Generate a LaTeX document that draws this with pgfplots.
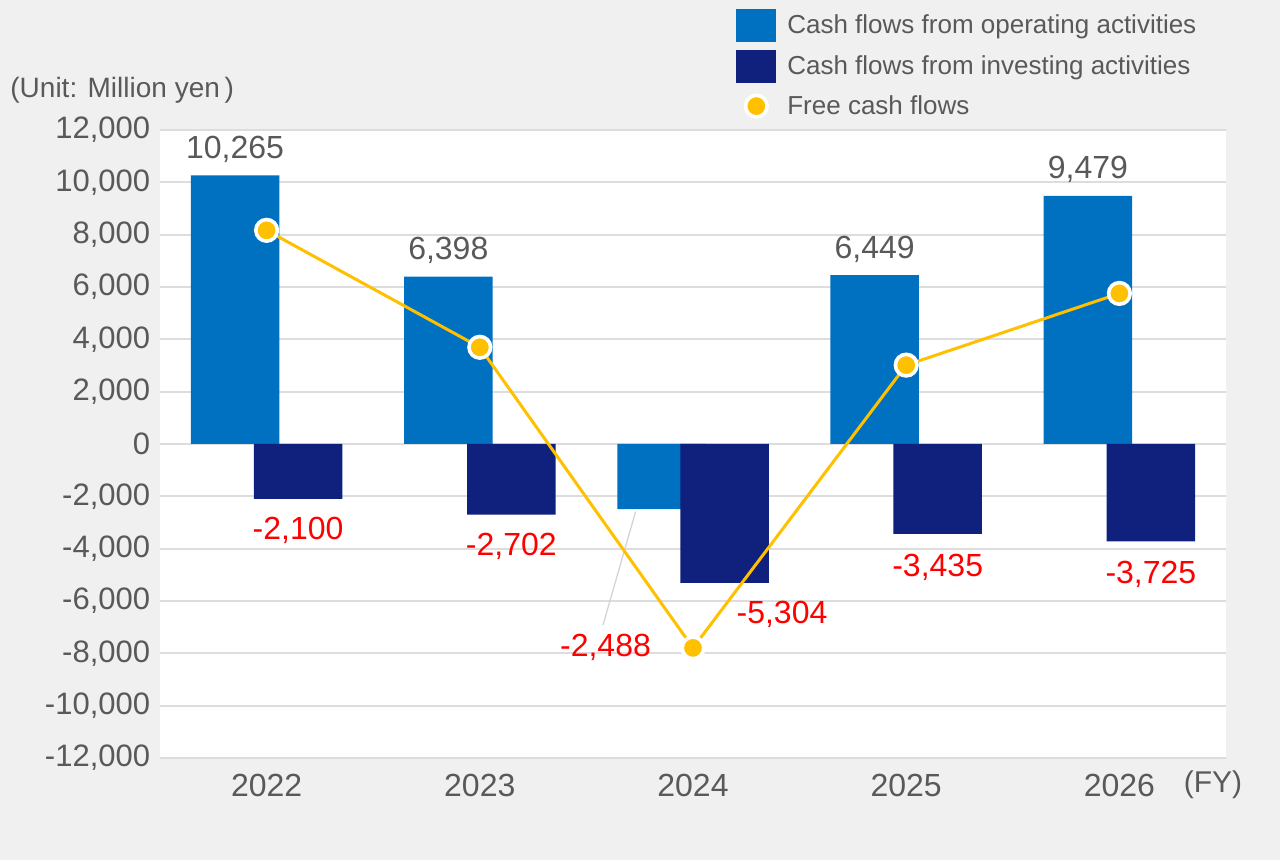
\documentclass[border=0pt]{standalone}
\usepackage{fontspec}
\setmainfont{Liberation Sans}
\usepackage{pgfplots}
\usepackage{pgfplotstable}
\pgfplotsset{compat=1.18}

\definecolor{opblue}{RGB}{0,112,192}
\definecolor{invnavy}{RGB}{15,32,125}
\definecolor{fcf}{RGB}{255,192,0}
\definecolor{txtgray}{RGB}{89,89,89}
\definecolor{bggray}{RGB}{240,240,240}
\definecolor{gridgray}{RGB}{221,221,221}

\pgfplotstableread{
x y
0 10265
1 6398
2 -2488
3 6449
4 9479
}\opdata

\pgfplotstableread{
x y
0 -2100
1 -2702
2 -5304
3 -3435
4 -3725
}\invdata

\pgfplotstableread{
x y
0 8165
1 3696
2 -7792
3 3014
4 5754
}\fcfdata

\begin{document}
\begin{tikzpicture}
\fill[bggray] (0pt,0pt) rectangle (640pt,430pt);
\begin{axis}[
  at={(80pt,51pt)}, anchor=south west,
  scale only axis, width=533pt, height=314pt,
  xmin=-0.5, xmax=4.5, ymin=-12000, ymax=12000,
  xtick={0,1,2,3,4}, xticklabels={2022,2023,2024,2025,2026},
  ytick={-12000,-10000,...,12000},
  scaled y ticks=false,
  axis background/.style={fill=white},
  axis line style={draw=none},
  major tick length=0pt,
  ymajorgrids, grid style={gridgray, line width=1pt},
  /pgf/number format/.cd, 1000 sep={,}, assume math mode=true, /pgfplots/.cd,
  yticklabel style={font=\fontsize{15.5}{18}\selectfont, text=txtgray, inner sep=0pt, anchor=east, xshift=-4.75pt},
  xticklabel style={font=\fontsize{16}{19}\selectfont, text=txtgray, inner sep=0pt, anchor=north, yshift=-7.75pt},
  clip=false,
  legend cell align=left,
  legend style={at={(axis description cs:0.5403,1.193)}, anchor=north west, draw=none, fill=none,
    font=\fontsize{13}{15.5}\selectfont, text=txtgray, inner sep=0pt, row sep=4pt,
    /tikz/every odd column/.append style={column sep=3.5pt}},
]
\addplot[ybar, bar width=44.25pt, bar shift=-15.75pt, fill=opblue, draw=none,
  nodes near coords,
  every node near coord/.append style={anchor=base, inner sep=0pt, xshift=-15.75pt, yshift=8.5pt,
    font=\fontsize{16}{19}\selectfont},
  coordinate style/.condition={\coordindex<2}{text=txtgray},
  coordinate style/.condition={\coordindex>2}{text=txtgray},
  coordinate style/.condition={\coordindex==2}{xshift=-28pt, yshift=-82pt, text=red},
  legend image code/.code={\fill[opblue] (0pt,-8.25pt) rectangle (20pt,8.25pt);}
] table[x=x, y=y] {\opdata};
\addlegendentry{Cash flows from operating activities}
\addplot[ybar, bar width=44.25pt, bar shift=15.75pt, fill=invnavy, draw=none,
  nodes near coords,
  every node near coord/.append style={anchor=base, inner sep=0pt, xshift=15.75pt, yshift=-20.5pt,
    font=\fontsize{16}{19}\selectfont, text=red},
  coordinate style/.condition={\coordindex==2}{xshift=28.75pt},
  coordinate style/.condition={\coordindex==3}{yshift=-1pt},
  coordinate style/.condition={\coordindex==4}{yshift=-0.5pt},
  legend image code/.code={\fill[invnavy] (0pt,-8.25pt) rectangle (20pt,8.25pt);}
] table[x=x, y=y] {\invdata};
\addlegendentry{Cash flows from investing activities}
\draw[gray!35, line width=0.6pt] (axis cs:1.731,-2581) -- (axis cs:1.578,-6914);
\addplot[sharp plot, fcf, line width=1.5pt, mark=*, mark size=5.4pt,
  mark options={fill=fcf, draw=white, line width=1.8pt},
  legend image code/.code={\fill[fcf, draw=white, line width=1.8pt] (10pt,0pt) circle (5.4pt);}
] table[x=x, y=y] {\fcfdata};
\addlegendentry{Free cash flows}
\end{axis}
\node[anchor=west, inner sep=0pt, text=txtgray, font=\fontsize{14}{16}\selectfont] at (5pt,384.75pt) {(Unit: Million yen\,)};
\node[anchor=center, inner sep=0pt, text=txtgray, font=\fontsize{15}{18}\selectfont] at (606.5pt,37.5pt) {(FY)};
\pgfresetboundingbox
\useasboundingbox (0pt,0pt) rectangle (640pt,430pt);
\end{tikzpicture}
\end{document}
